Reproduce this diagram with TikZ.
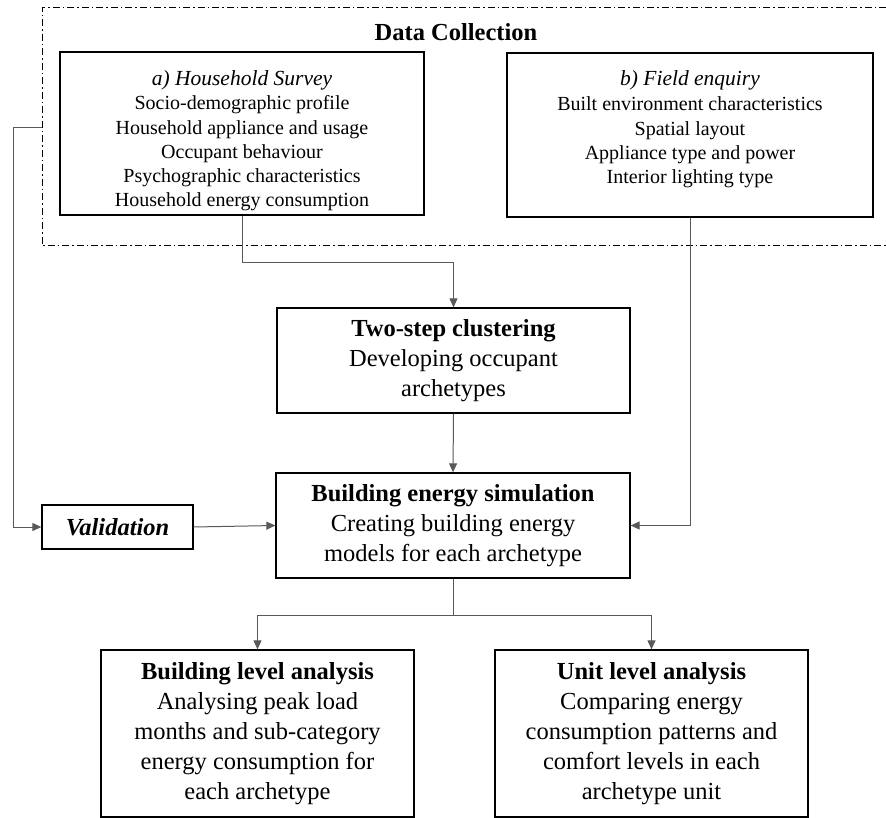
\documentclass[tikz,border=0pt]{standalone}
\usepackage{fontspec}
\setmainfont{Liberation Serif}
\usetikzlibrary{arrows.meta,calc}

\begin{document}
\begin{tikzpicture}[x=1pt,y=-1pt]
	\tikzset{>={Triangle[length=9pt,width=8pt]},
		box/.style={draw, line width=1.3pt, inner sep=0pt, align=center},
		conn/.style={draw=black!65, line width=1pt},
		small/.style={font=\fontsize{20}{24.3}\selectfont},
		big/.style={font=\fontsize{24.5}{30}\selectfont}}
	\useasboundingbox (0,0) rectangle (886,818);

	\draw[line width=1pt, dash pattern=on 7pt off 3pt on 1.5pt off 3pt] (886,8) -- (42,8) -- (42,246) -- (886,246);
	\node[font=\fontsize{24.5}{28}\selectfont\bfseries] (dc) at (456,32) {Data Collection};

	\node[box, small, minimum width=364pt, minimum height=163pt] (survey) at (242,133.5)
		{\parbox[c][126pt][t]{350pt}{\centering{\fontsize{21.5}{24}\selectfont\textit{a) Household Survey}}\\ Socio-demographic profile\\ Household appliance and usage\\ Occupant behaviour\\ Psychographic characteristics\\ Household energy consumption}};
	\node[box, small, minimum width=366pt, minimum height=164pt] (field) at (690,135)
		{\parbox[c][129pt][t]{350pt}{\centering{\fontsize{21.5}{24}\selectfont\textit{b) Field enquiry}}\\[1pt] Built environment characteristics\\ Spatial layout\\ Appliance type and power\\ Interior lighting type}};

	\node[box, big, minimum width=353pt, minimum height=105pt] (twostep) at (453.5,360.5)
		{\textbf{Two-step clustering}\\ Developing occupant\\ archetypes};
	\node[box, big, minimum width=354pt, minimum height=105pt] (bes) at (453,525.5)
		{\textbf{Building energy simulation}\\ Creating building energy\\ models for each archetype};
	\node[box, big, minimum width=151pt, minimum height=44pt] (valid) at (117.5,527)
		{\textbf{\textit{Validation}}};
	\node[box, big, minimum width=313pt, minimum height=167pt] (bla) at (257.5,733.5)
		{\textbf{Building level analysis}\\ Analysing peak load\\ months and sub-category\\ energy consumption for\\ each archetype};
	\node[box, big, minimum width=313pt, minimum height=167pt] (ula) at (651.5,733.5)
		{\textbf{Unit level analysis}\\ Comparing energy\\ consumption patterns and\\ comfort levels in each\\ archetype unit};

	\coordinate (fb) at (42,128);
	\draw[conn,->] (survey.south) -- ++(0,47) -| (twostep.north);
	\draw[conn,->] (twostep.south) -- (bes.north);
	\draw[conn,->] (field.south) |- (bes.east);
	\draw[conn,->] (fb) -- ++(-29,0) |- (valid.west);
	\draw[conn,->] (valid.east) -- (bes.west);
	\draw[conn] (bes.south) -- ++(0,37) coordinate (split);
	\draw[conn,->] (split) -| (bla.north);
	\draw[conn,->] (split) -| (ula.north);
\end{tikzpicture}
\end{document}
